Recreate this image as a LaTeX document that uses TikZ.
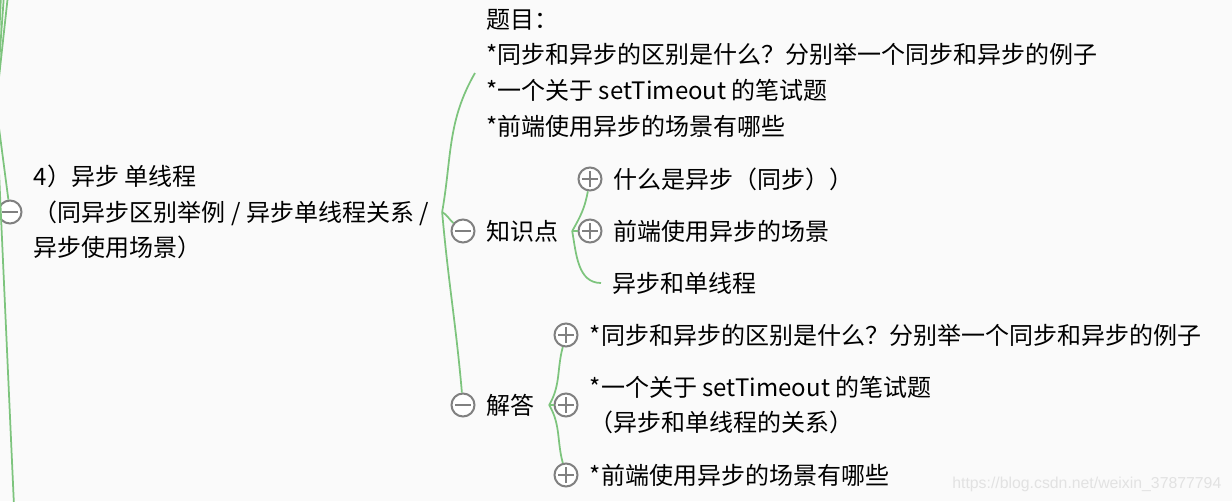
\documentclass[tikz,border=0pt]{standalone}
\usepackage{fontspec}
\setmainfont{Noto Sans CJK SC}
\newfontfamily\wmfont{Liberation Sans}
\usetikzlibrary{positioning}
\definecolor{branch}{RGB}{125,196,125}
\definecolor{knobgray}{RGB}{128,128,128}
\definecolor{paper}{RGB}{250,250,250}
\definecolor{markgray}{RGB}{226,226,226}
\begin{document}
\begin{tikzpicture}[x = 0.02cm, y = -0.02cm, node distance = 0.22cm]
        \tikzset{
            topic/.style  = {inner sep = 0pt, align = left, font = \fontsize{13.66}{20.3}\selectfont},
            knob/.style   = {draw = knobgray, line width = 0.04cm, circle, fill = white, minimum size = 0.46cm, inner sep = 0pt},
            fold/.style   = {knob, path picture = {\draw[knobgray, line width = 0.04cm] ([xshift = -0.16cm]path picture bounding box.center) -- ([xshift = 0.16cm]path picture bounding box.center);}},
            unfold/.style = {knob, path picture = {\draw[knobgray, line width = 0.04cm] ([xshift = -0.16cm]path picture bounding box.center) -- ([xshift = 0.16cm]path picture bounding box.center) ([yshift = -0.16cm]path picture bounding box.center) -- ([yshift = 0.16cm]path picture bounding box.center);}},
            link/.style   = {draw = branch, line width = 0.035cm},
            joint/.style  = {coordinate},
            stamp/.style  = {inner sep = 0pt, text = markgray, font = \wmfont\fontsize{9}{10}\selectfont}
        }
        \useasboundingbox (0,0) rectangle (1232,501);
        \fill[paper] (0,0) rectangle (1232,501);

        \node[fold] (C4) at (10,212) {};
        \node[topic, right = of C4] (N4) {4）异步 单线程\\（同异步区别举例 / 异步单线程关系 /\\异步使用场景）};
        \node[joint, right = 0.26cm of N4] (J4) {};

        \coordinate (T0) at (475,73);
        \node[topic, right = of T0] (TM) {题目：\\*同步和异步的区别是什么？分别举一个同步和异步的例子\\*一个关于 setTimeout 的笔试题\\*前端使用异步的场景有哪些};

        \node[fold] (CZ) at (463,231) {};
        \node[topic, right = of CZ] (ZS) {知识点};
        \node[joint, right = 0.26cm of ZS] (JZ) {};
        \node[unfold] (K1) at (590,179) {};
        \node[topic, right = of K1] (K1T) {什么是异步（同步））};
        \node[unfold] (K2) at (590,231) {};
        \node[topic, right = of K2] (K2T) {前端使用异步的场景};
        \coordinate (K3) at (601,283);
        \node[topic, right = of K3] (K3T) {异步和单线程};

        \node[fold] (CJ) at (463,405) {};
        \node[topic, right = of CJ] (JD) {解答};
        \node[joint, right = 0.28cm of JD] (JJ) {};
        \node[unfold] (A1) at (566,335) {};
        \node[topic, right = of A1] (A1T) {*同步和异步的区别是什么？分别举一个同步和异步的例子};
        \node[unfold] (A2) at (566,405) {};
        \node[topic, right = of A2] (A2T) {*一个关于 setTimeout 的笔试题\\（异步和单线程的关系）};
        \node[unfold] (A3) at (566,475) {};
        \node[topic, right = of A3] (A3T) {*前端使用异步的场景有哪些};

        \node[stamp, anchor = west] (WM) at (952,484) {https://blog.csdn.net/weixin\_37877794};

        \begin{scope}
            \clip (0,0) rectangle (1232,501);
            \coordinate (R0) at (-4,105);
            \coordinate (U1) at (1,-5);
            \coordinate (U2) at (4,-5);
            \coordinate (U3) at (8,-5);
            \coordinate (D1) at (14,506);
            \draw[link] (R0) -- (U1);
            \draw[link] (R0) -- (U2);
            \draw[link] (R0) -- (U3);
            \draw[link] (R0) -- (D1);
            \draw[link] (R0) -- (C4);
        \end{scope}

        \draw[link] (J4) to [out = 80, in = -120] (T0);
        \draw[link] (J4) to [out = -30, in = 140] (CZ);
        \draw[link] (J4) to [out = -85, in = 95] (CJ);

        \draw[link] (JZ) to [out = 60, in = -100] (K1);
        \draw[link] (JZ) -- (K2);
        \draw[link] (JZ) to [out = -80, in = 180] (K3);

        \draw[link] (JJ) to [out = 60, in = -105] (A1);
        \draw[link] (JJ) -- (A2);
        \draw[link] (JJ) to [out = -60, in = 105] (A3);
    \end{tikzpicture}
\end{document}
